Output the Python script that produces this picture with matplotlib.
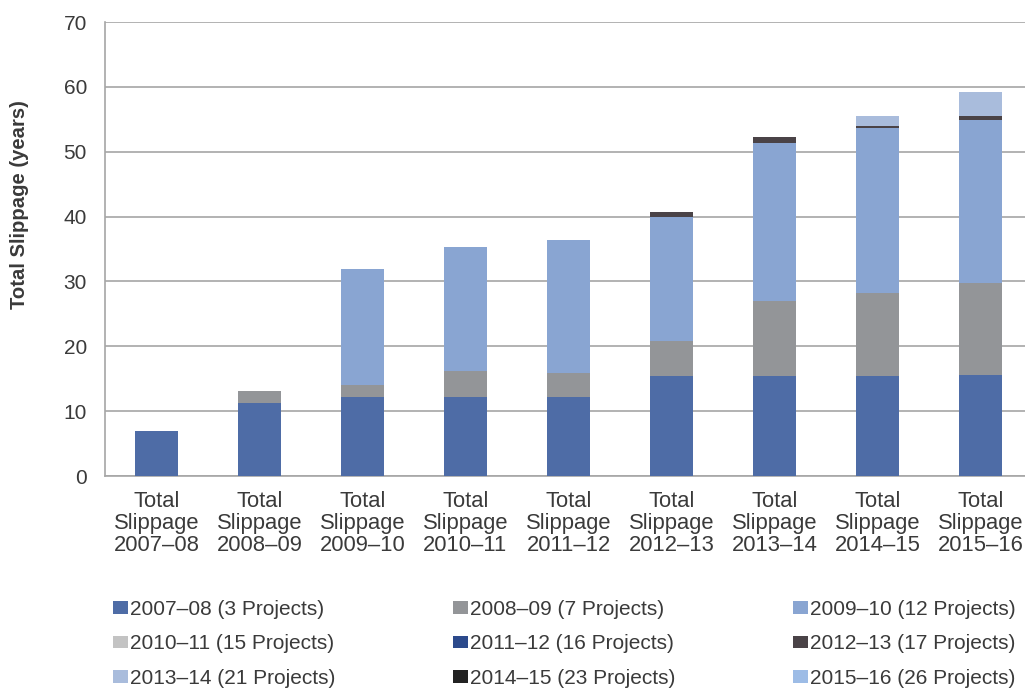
import matplotlib
matplotlib.use("Agg")
import matplotlib.pyplot as plt
from matplotlib.patches import Patch
import numpy as np

categories = ["Total\nSlippage\n2007\u201308", "Total\nSlippage\n2008\u201309", "Total\nSlippage\n2009\u201310",
              "Total\nSlippage\n2010\u201311", "Total\nSlippage\n2011\u201312", "Total\nSlippage\n2012\u201313",
              "Total\nSlippage\n2013\u201314", "Total\nSlippage\n2014\u201315", "Total\nSlippage\n2015\u201316"]

series_names = ["2007\u201308 (3 Projects)", "2008\u201309 (7 Projects)", "2009\u201310 (12 Projects)",
                "2010\u201311 (15 Projects)", "2011\u201312 (16 Projects)", "2012\u201313 (17 Projects)",
                "2013\u201314 (21 Projects)", "2014\u201315 (23 Projects)", "2015\u201316 (26 Projects)"]

s0708 = [7.0, 11.3, 12.2, 12.2, 12.2, 15.4, 15.4, 15.4, 15.6]
s0809 = [0, 1.8, 1.8, 4.0, 3.7, 5.4, 11.6, 12.8, 14.2]
s0910 = [0, 0, 17.9, 19.1, 20.5, 19.2, 24.4, 25.4, 25.1]
s1011 = [0, 0, 0, 0, 0, 0, 0, 0, 0]
s1112 = [0, 0, 0, 0, 0, 0, 0, 0, 0]
s1213 = [0, 0, 0, 0, 0, 0.7, 0.9, 0.4, 0.6]
s1314 = [0, 0, 0, 0, 0, 0, 0, 1.5, 3.7]
s1415 = [0, 0, 0, 0, 0, 0, 0, 0, 0]
s1516 = [0, 0, 0, 0, 0, 0, 0, 0, 0]

series = [s0708, s0809, s0910, s1011, s1112, s1213, s1314, s1415, s1516]
colors = ["#4E6CA6", "#939598", "#89A5D2", "#C3C3C3", "#2C4A8C", "#4A4347",
          "#A9BCDC", "#222222", "#9DBCE6"]

plt.rcParams['font.family'] = ['Liberation Sans Narrow', 'Liberation Sans', 'DejaVu Sans']
TXT = "#3A3A3A"
fig = plt.figure(figsize=(10.25, 6.88), dpi=100)
ax = fig.add_axes([105/1025, (688-476)/688, 927/1025, 454/688])

x = np.arange(len(categories))
bottom = np.zeros(len(categories))
for vals, c in zip(series, colors):
    v = np.array(vals, dtype=float)
    ax.bar(x, v, width=0.41, bottom=bottom, color=c, zorder=3)
    bottom += v

ax.set_xlim(-0.5, len(categories) - 0.5)
ax.set_ylim(0, 70)
ax.set_yticks(range(0, 71, 10))
ax.yaxis.grid(True, color="#A6A6A6", linewidth=1.2, zorder=0)
ax.set_xticks(x)
ax.set_xticklabels(categories, fontsize=15.8, color=TXT, linespacing=1.06)
ax.tick_params(axis='y', labelsize=15, labelcolor=TXT, length=0, pad=13)
ax.tick_params(axis='x', length=0, pad=11)
for s in ["top", "right"]:
    ax.spines[s].set_visible(False)
for s in ["left", "bottom"]:
    ax.spines[s].set_color("#A6A6A6")
    ax.spines[s].set_linewidth(1.2)

fig.text(20/1025, (688-205)/688, "Total Slippage (years)", rotation=90, ha='center', va='center',
         fontsize=14.6, fontweight='bold', color=TXT)

handles = [Patch(facecolor=c, edgecolor='none') for c in colors]
col_x = [113, 453, 793]
for ci in range(3):
    idx = [ci, ci + 3, ci + 6]
    leg = fig.legend([handles[i] for i in idx], [series_names[i] for i in idx],
                     ncol=1, loc='upper left', bbox_to_anchor=(col_x[ci]/1025, (688-600)/688),
                     frameon=False, fontsize=15, handlelength=0.7, handleheight=0.55,
                     handletextpad=0.1, labelspacing=0.74, borderaxespad=0, borderpad=0)
    for t in leg.get_texts():
        t.set_color(TXT)

fig.savefig("out.png", dpi=100)
